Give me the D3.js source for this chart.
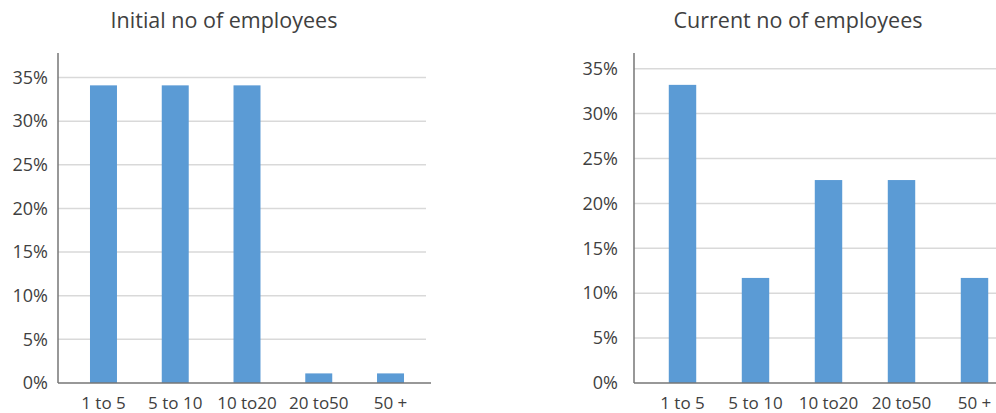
<!DOCTYPE html>
<html>
<head>
<meta charset="utf-8">
<script src="https://cdn.jsdelivr.net/npm/d3@7"></script>
<style>
  html, body { margin: 0; padding: 0; background: #ffffff; }
  svg { display: block; }
  text { font-family: "Open Sans", "Noto Sans", sans-serif; fill: #404040; }
</style>
</head>
<body>
<svg id="chart" width="996" height="413"></svg>
<script>
// Company size bands (number of employees)
const categories = ["1 to 5", "5 to 10", "10 to20", "20 to50", "50 +"];
// Share of companies per band, in percent
const initialShare = [34.1, 34.1, 34.1, 1.1, 1.1];
const currentShare = [33.2, 11.7, 22.6, 22.6, 11.7];
const yTicks = [0, 5, 10, 15, 20, 25, 30, 35];
const titles = ["Initial no of employees", "Current no of employees"];

const svg = d3.select("#chart");

const panels = [
  { title: titles[0], values: initialShare, axisX: 58, bandRange: [67.6, 426.4], gridEnd: 426, baseEnd: 431,
    yTop: 77.5, titleX: 224, labelX: 48 },
  { title: titles[1], values: currentShare, axisX: 634, bandRange: [646, 1011], gridEnd: 996, baseEnd: 996,
    yTop: 68.7, titleX: 798, labelX: 618 }
];

const yBase = 383;

panels.forEach(p => {
  const g = svg.append("g");
  const x = d3.scaleBand().domain(categories).range(p.bandRange).paddingInner(0.624).paddingOuter(0.312);
  const y = d3.scaleLinear().domain([0, 35]).range([yBase, p.yTop]);

  // horizontal gridlines
  g.append("g").selectAll("line").data(yTicks.filter(d => d > 0)).join("line")
    .attr("x1", p.axisX).attr("x2", p.gridEnd)
    .attr("y1", d => y(d)).attr("y2", d => y(d))
    .attr("stroke", "#d9d9d9").attr("stroke-width", 1.5);

  // y tick labels
  const yAxis = d3.axisLeft(y).tickValues(yTicks).tickFormat(d => d + "%").tickSize(0).tickPadding(0);
  const ya = g.append("g").attr("transform", `translate(${p.labelX},0)`).call(yAxis);
  ya.select(".domain").remove();
  ya.selectAll("text").attr("font-size", 18).attr("fill", "#404040")
    .style("font-family", '"Open Sans", sans-serif');

  // bars
  g.append("g").selectAll("rect").data(p.values).join("rect")
    .attr("x", (d, i) => x(categories[i]))
    .attr("width", x.bandwidth())
    .attr("y", d => y(d))
    .attr("height", d => yBase - y(d))
    .attr("fill", "#5b9bd5");

  // x category labels
  const xAxis = d3.axisBottom(x).tickSize(0).tickPadding(0);
  const xa = g.append("g").attr("transform", `translate(0,${yBase + 14})`).call(xAxis);
  xa.select(".domain").remove();
  xa.selectAll("text").attr("font-size", 17).attr("fill", "#404040")
    .style("font-family", '"Open Sans", sans-serif');

  // axis lines
  g.append("line").attr("x1", p.axisX).attr("x2", p.axisX).attr("y1", 53).attr("y2", yBase)
    .attr("stroke", "#767676").attr("stroke-width", 1.5);
  g.append("line").attr("x1", p.axisX).attr("x2", p.baseEnd).attr("y1", yBase).attr("y2", yBase)
    .attr("stroke", "#767676").attr("stroke-width", 1.5);

  // title
  g.append("text").attr("x", p.titleX).attr("y", 28).attr("text-anchor", "middle")
    .attr("font-size", 21.5).text(p.title);
});
</script>
</body>
</html>
